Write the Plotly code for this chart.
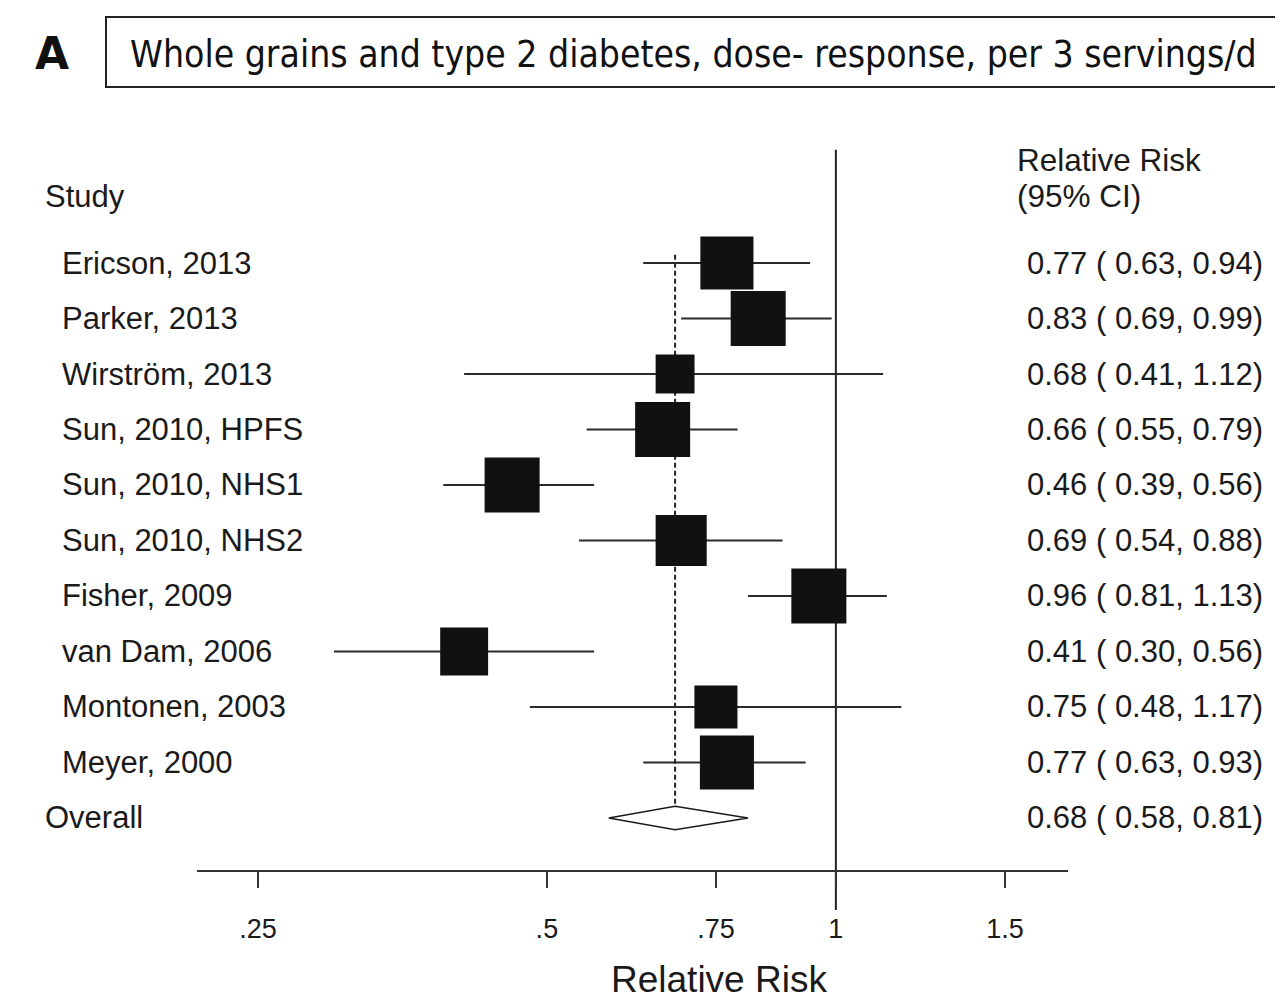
import plotly.graph_objects as go

studies = ["Ericson, 2013", "Parker, 2013", "Wirström, 2013", "Sun, 2010, HPFS",
           "Sun, 2010, NHS1", "Sun, 2010, NHS2", "Fisher, 2009", "van Dam, 2006",
           "Montonen, 2003", "Meyer, 2000"]
rr = [0.77, 0.83, 0.68, 0.66, 0.46, 0.69, 0.96, 0.41, 0.75, 0.77]
lo = [0.63, 0.69, 0.41, 0.55, 0.39, 0.54, 0.81, 0.30, 0.48, 0.63]
hi = [0.94, 0.99, 1.12, 0.79, 0.56, 0.88, 1.13, 0.56, 1.17, 0.93]
weights = [10.8, 11.6, 5.8, 11.6, 11.6, 10.0, 11.6, 8.8, 7.1, 11.2]
overall_label = "Overall"
overall_rr, overall_lo, overall_hi = 0.68, 0.58, 0.81
tick_vals = [0.25, 0.5, 0.75, 1, 1.5]
tick_text = [".25", ".5", ".75", "1", "1.5"]
title_text = "Whole grains and type 2 diabetes, dose- response, per 3 servings/d"

rows = list(range(len(studies)))
overall_row = len(studies)

FONT = "Liberation Sans, Arial, Helvetica, sans-serif"
INK = "#1a1a1a"

fig = go.Figure()

# CI lines
cx, cy = [], []
for r, l, h in zip(rows, lo, hi):
    cx += [l, h, None]
    cy += [r, r, None]
fig.add_trace(go.Scatter(x=cx, y=cy, mode="lines", line=dict(color="#2a2a2a", width=2),
                         hoverinfo="skip", showlegend=False))

# boxes
sizes = [(w * 261) ** 0.5 for w in weights]
fig.add_trace(go.Scatter(x=rr, y=rows, mode="markers",
                         marker=dict(symbol="square", size=sizes, color="#111",
                                     opacity=1, line=dict(width=0)),
                         showlegend=False, cliponaxis=False))

# diamond
dh = 0.21
fig.add_trace(go.Scatter(
    x=[overall_lo, overall_rr, overall_hi, overall_rr, overall_lo],
    y=[overall_row, overall_row - dh, overall_row, overall_row + dh, overall_row],
    mode="lines", fill="toself", fillcolor="white",
    line=dict(color=INK, width=1.5), showlegend=False, hoverinfo="skip"))

# reference lines
fig.add_shape(type="line", xref="x", yref="y", x0=1, x1=1, y0=-2.04, y1=11.658,
              line=dict(color="#222", width=2), layer="below")
fig.add_shape(type="line", xref="x", yref="y", x0=overall_rr, x1=overall_rr,
              y0=-0.15, y1=overall_row + 0.18,
              line=dict(color="#222", width=2, dash="5px,3px"), layer="below")

ann = []
# header
ann.append(dict(text="Study", x=-0.1768, y=-1.2, xref="paper", yref="y",
                xanchor="left", yanchor="middle", showarrow=False,
                font=dict(family=FONT, size=31, color=INK)))
ann.append(dict(text="Relative Risk", x=0.939, y=-1.86, xref="paper", yref="y",
                xanchor="left", yanchor="middle", showarrow=False,
                font=dict(family=FONT, size=31.5, color=INK)))
ann.append(dict(text="(95% CI)", x=0.939, y=-1.2, xref="paper", yref="y",
                xanchor="left", yanchor="middle", showarrow=False,
                font=dict(family=FONT, size=31.5, color=INK)))
for r, s, e, l, h in zip(rows, studies, rr, lo, hi):
    ann.append(dict(text=s, x=-0.1573, y=r, xref="paper", yref="y",
                    xanchor="left", yanchor="middle", showarrow=False,
                    font=dict(family=FONT, size=31, color=INK)))
    ann.append(dict(text=f"{e:.2f} ( {l:.2f}, {h:.2f})", x=0.9506, y=r,
                    xref="paper", yref="y", xanchor="left", yanchor="middle",
                    showarrow=False, font=dict(family=FONT, size=31, color=INK)))
ann.append(dict(text=overall_label, x=-0.1768, y=overall_row, xref="paper", yref="y",
                xanchor="left", yanchor="middle", showarrow=False,
                font=dict(family=FONT, size=31, color=INK)))
ann.append(dict(text=f"{overall_rr:.2f} ( {overall_lo:.2f}, {overall_hi:.2f})",
                x=0.9506, y=overall_row, xref="paper", yref="y", xanchor="left",
                yanchor="middle", showarrow=False,
                font=dict(family=FONT, size=31, color=INK)))
# axis title
ann.append(dict(text="Relative Risk", x=0.599, y=-0.0864, xref="paper", yref="paper",
                xanchor="center", yanchor="middle", showarrow=False,
                font=dict(family=FONT, size=37, color=INK)))
# panel letter and title
ann.append(dict(text="<b>A</b>", x=(52 - 197) / 871, y=(910 - 53) / 810,
                xref="paper", yref="paper", xanchor="center", yanchor="middle",
                showarrow=False, font=dict(family="DejaVu Sans", size=44, color="#111")))
ann.append(dict(text=title_text, x=(128 - 197) / 871, y=(910 - 54) / 810,
                xref="paper", yref="paper", xanchor="left", yanchor="middle",
                showarrow=False,
                font=dict(family="DejaVu Sans Condensed, DejaVu Sans", size=37,
                          color="#111")))

fig.add_shape(type="rect", xref="paper", yref="paper",
              x0=(106 - 197) / 871, x1=(1300 - 197) / 871,
              y0=(910 - 87) / 810, y1=(910 - 17) / 810,
              line=dict(color="#222", width=2), fillcolor="rgba(0,0,0,0)")

# the page body adds an 8px offset, so margins are shifted by 8px up/left
fig.update_layout(
    width=1283, height=1001,
    margin=dict(l=189, r=223, t=92, b=99),
    paper_bgcolor="white", plot_bgcolor="white",
    annotations=ann, showlegend=False,
    xaxis=dict(type="log", range=[-0.6655, 0.2418], tickvals=tick_vals,
               ticktext=tick_text, showgrid=False, zeroline=False,
               showline=True, linecolor="#333", linewidth=2,
               ticks="outside", ticklen=16, tickwidth=2, tickcolor="#333",
               anchor="free", position=39 / 810, ticklabelstandoff=18,
               tickfont=dict(family=FONT, size=27, color=INK)),
    yaxis=dict(range=[11.658, -2.937], visible=False, showgrid=False,
               zeroline=False),
)

fig.write_html("out.html")
